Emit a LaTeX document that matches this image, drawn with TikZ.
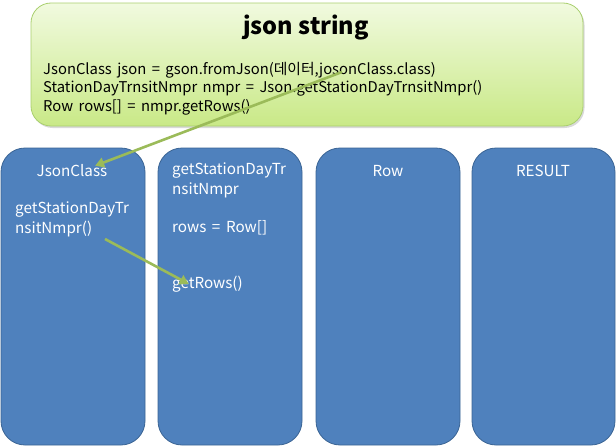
\documentclass[tikz,border=0pt]{standalone}
\usepackage{fontspec}
\setmainfont{Noto Sans CJK KR}
\usetikzlibrary{arrows.meta,shadows}
\definecolor{boxblue}{HTML}{4F81BD}
\definecolor{boxedge}{HTML}{3A6494}
\definecolor{arrowgreen}{HTML}{9BBB59}
\definecolor{topgreen}{HTML}{F1FADF}
\definecolor{botgreen}{HTML}{C9E987}
\definecolor{edgegreen}{HTML}{A9CF6E}
\newcommand\mywidespace{\spaceskip=0.37em\relax}
\tikzset{
  colbox/.style={draw=boxedge, line width=0.8pt, fill=boxblue, rounded corners=24pt},
  boxtext/.style={text=white, font={\fontsize{15.2}{18}\selectfont\mywidespace}, inner sep=0pt, anchor=west},
  boxhead/.style={text=white, font={\fontsize{15.2}{18}\selectfont}, inner sep=0pt},
  codetext/.style={text=black, font={\fontsize{14.8}{19}\selectfont\mywidespace}, inner sep=0pt, anchor=west},
  greenarrow/.style={draw=arrowgreen, line width=2.6pt, -{Triangle[length=9pt,width=10pt]}, shorten >=-2pt},
}
\begin{document}
\begin{tikzpicture}[x=1pt,y=-1pt]
\useasboundingbox (0,0) rectangle (616,447);
% top box
\node (top) [draw=edgegreen, line width=0.8pt, rounded corners=20pt,
  top color=topgreen, bottom color=botgreen,
  drop shadow={opacity=0.3, shadow xshift=1.5pt, shadow yshift=-2pt},
  minimum width=552pt, minimum height=123pt, inner sep=0pt] at (307,64.5) {};
\node (title) [font={\bfseries\fontsize{23.5}{28}\selectfont}, inner sep=0pt] at (306,28) {json string};
\node (l1) [codetext] at (43,70) {JsonClass json = gson.fromJson(데이터,josonClass.class)};
\node (l2) [codetext] at (43,88.5) {StationDayTrnsitNmpr nmpr = Json.getStationDayTrnsitNmpr()};
\node (l3) [codetext] at (43,107) {Row rows[] = nmpr.getRows()};
% column boxes
\draw[colbox] (1,148) rectangle (145,445);
\node (b1) [inner sep=0pt, minimum width=144pt, minimum height=297pt] at (73,296.5) {};
\draw[colbox] (158,148) rectangle (302,445);
\node (b2) [inner sep=0pt, minimum width=144pt, minimum height=297pt] at (230,296.5) {};
\draw[colbox] (316,148) rectangle (460,445);
\node (b3) [inner sep=0pt, minimum width=144pt, minimum height=297pt] at (388,296.5) {};
\draw[colbox] (472,148) rectangle (615,445);
\node (b4) [inner sep=0pt, minimum width=143pt, minimum height=297pt] at (543.5,296.5) {};
% texts
\node (t1) [boxhead] at (72,171) {JsonClass};
\node (t1a) [boxtext] at (15,210) {getStationDayTr};
\node (t1b) [boxtext] at (15,229) {nsitNmpr()};
\node (t2) [boxtext] at (172,171) {getStationDayTr};
\node (t2b) [boxtext] at (172,190) {nsitNmpr};
\node (t2c) [boxtext] at (172,228) {rows = Row[]};
\node (t2d) [boxtext] at (172,284) {getRows()};
\node (t3) [boxhead] at (388,171) {Row};
\node (t4) [boxhead] at (543,171) {RESULT};
% arrows
\coordinate (a1s) at (342,72);
\coordinate (a1e) at (97,165);
\coordinate (a2s) at (105,239);
\coordinate (a2e) at (187,283);
\draw[greenarrow] (a1s) -- (a1e);
\draw[greenarrow] (a2s) -- (a2e);
\end{tikzpicture}
\end{document}
